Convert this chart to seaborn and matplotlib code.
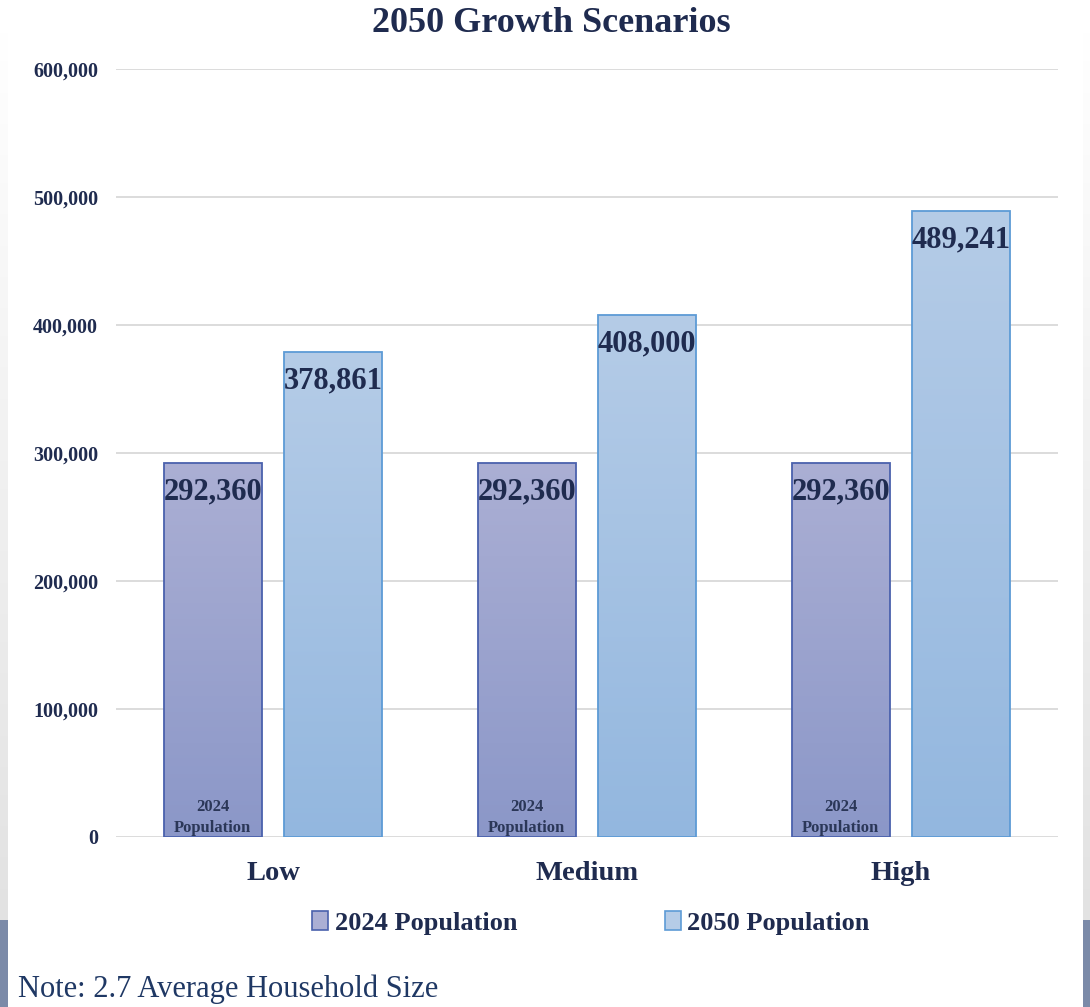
import numpy as np
import pandas as pd
import matplotlib
matplotlib.use("Agg")
import matplotlib.pyplot as plt
from matplotlib.patches import Patch, Rectangle
from matplotlib.colors import LinearSegmentedColormap
import seaborn as sns

# Population scenarios
scenarios = ["Low", "Medium", "High"]
series = ["2024 Population", "2050 Population"]
pop_2024 = [292360, 292360, 292360]
pop_2050 = [378861, 408000, 489241]
y_ticks = [0, 100000, 200000, 300000, 400000, 500000, 600000]

df = pd.DataFrame({
    "scenario": scenarios * 2,
    "series": [series[0]] * 3 + [series[1]] * 3,
    "population": pop_2024 + pop_2050,
})

sns.set_theme(style="white")
plt.rcParams["font.family"] = ["Liberation Serif", "DejaVu Serif"]

NAVY = "#1f2b4f"
grad = {
    series[0]: ("#8b97c8", "#abafd4", "#4a61ad"),
    series[1]: ("#93b7df", "#b5cce7", "#5d9bd6"),
}

fig = plt.figure(figsize=(10.9, 10.07), dpi=100, facecolor="white")

# Slide frame: soft grey side strips and slate band at the bottom
bg = fig.add_axes([0, 0, 1, 1], zorder=-10)
bg.axis("off")
side = LinearSegmentedColormap.from_list("side", ["#ffffff", "#e2e2e2"])
bg.imshow(np.linspace(0, 1, 256).reshape(-1, 1), cmap=side, aspect="auto",
          extent=[0, 8, 920, 30], zorder=0)
bg.imshow(np.linspace(0, 1, 256).reshape(-1, 1), cmap=side, aspect="auto",
          extent=[1083, 1090, 920, 30], zorder=0)
bg.add_patch(Rectangle((0, 920), 8, 87, color="#7b8aa8", lw=0))
bg.add_patch(Rectangle((1083, 920), 7, 87, color="#7b8aa8", lw=0))
bg.set_xlim(0, 1090)
bg.set_ylim(1007, 0)

ax = fig.add_axes([116 / 1090, 1 - 837 / 1007, 942 / 1090, 768 / 1007])
ax.set_facecolor("none")

sns.barplot(data=df, x="scenario", y="population", hue="series",
            hue_order=series, order=scenarios,
            palette=[grad[s][0] for s in series],
            width=0.766, gap=0.19, linewidth=1.3, legend=False, ax=ax,
            zorder=3)

ax.set_ylim(0, 600000)
xlim = ax.get_xlim()

# Vertical gradient fills clipped to each bar
for cont, s in zip(ax.containers, series):
    bottom_c, top_c, edge_c = grad[s]
    cmap = LinearSegmentedColormap.from_list(s, [bottom_c, top_c])
    for patch in cont.patches:
        patch.set_edgecolor(edge_c)
        x0, w, h = patch.get_x(), patch.get_width(), patch.get_height()
        im = ax.imshow(np.linspace(0, 1, 256).reshape(-1, 1), cmap=cmap,
                       origin="lower", aspect="auto",
                       extent=[x0, x0 + w, 0, h], zorder=2.5)
        im.set_clip_path(patch)
        patch.set_facecolor("none")

ax.set_xlim(xlim)
ax.set_ylim(0, 600000)

# Value labels inside the top of each bar
for cont, vals in zip(ax.containers, [pop_2024, pop_2050]):
    for patch, v in zip(cont.patches, vals):
        cx = patch.get_x() + patch.get_width() / 2
        ax.annotate(f"{v:,}", (cx, v), xytext=(0, -21), textcoords="offset points",
                    ha="center", va="center", fontsize=22, fontweight="bold",
                    color=NAVY, zorder=5)

# Series name at the foot of each 2024 bar
for patch in ax.containers[0].patches:
    cx = patch.get_x() + patch.get_width() / 2
    ax.annotate("2024\nPopulation", (cx, 0), xytext=(0, 1), textcoords="offset points",
                ha="center", va="bottom", fontsize=12, fontweight="bold",
                color="#2b3758", linespacing=1.4, zorder=5)

ax.set_yticks(y_ticks)
ax.set_yticklabels([f"{t:,}" for t in y_ticks])
ax.yaxis.grid(True, color="#d9d9d9", linewidth=1.3, zorder=0)
ax.set_axisbelow(True)
for sp in ax.spines.values():
    sp.set_visible(False)
ax.tick_params(axis="y", length=0, pad=13, labelsize=14.5, labelcolor=NAVY)
ax.tick_params(axis="x", length=0, pad=17, labelsize=20.5, labelcolor=NAVY)
for lab in ax.get_yticklabels() + ax.get_xticklabels():
    lab.set_fontweight("bold")
ax.set_xlabel("")
ax.set_ylabel("")

fig.text(551 / 1090, 1 - 24 / 1007, "2050 Growth Scenarios", ha="center", va="center",
         fontsize=26, fontweight="bold", color=NAVY)

handles = [Patch(facecolor=grad[s][1], edgecolor=grad[s][2], linewidth=1.2) for s in series]
leg = fig.legend(handles, series, loc="center", bbox_to_anchor=(591 / 1090, 1 - 923 / 1007),
                 ncol=2, frameon=False, handlelength=0.6, handleheight=0.75,
                 handletextpad=0.25, columnspacing=5.6,
                 prop={"size": 19, "weight": "bold"})
for t in leg.get_texts():
    t.set_color(NAVY)

fig.text(18 / 1090, 1 - 989 / 1007, "Note: 2.7 Average Household Size", ha="left",
         va="center", fontsize=22, color="#1f3864")

fig.savefig("out.png", dpi=100, facecolor="white")
